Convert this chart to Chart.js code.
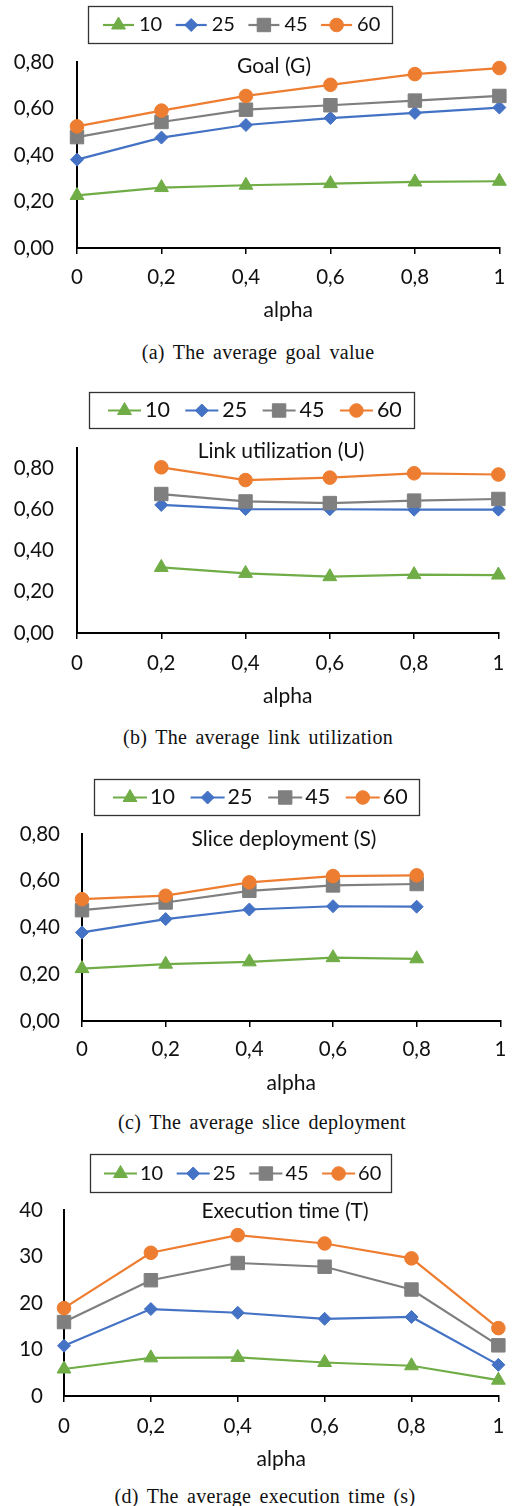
<!DOCTYPE html>
<html><head><meta charset="utf-8">
<script src="https://cdn.jsdelivr.net/npm/chart.js@4.4.0/dist/chart.umd.min.js"></script>
<style>
html,body{margin:0;padding:0;background:#fff;}
body{width:516px;height:1506px;position:relative;overflow:hidden;}
canvas{position:absolute;left:0;}
.cap{position:absolute;left:0;width:516px;text-align:center;font-family:"Liberation Serif","Times New Roman",serif;font-size:20px;word-spacing:3px;letter-spacing:0.3px;color:#111;line-height:20px;white-space:nowrap;}
</style></head><body>
<script>
// ---- data ----
const alpha = ['0', '0,2', '0,4', '0,6', '0,8', '1'];
const seriesNames = ['10', '25', '45', '60'];

const goal10 = [0.226, 0.260, 0.270, 0.277, 0.284, 0.287];
const goal25 = [0.380, 0.475, 0.529, 0.559, 0.581, 0.604];
const goal45 = [0.477, 0.542, 0.595, 0.614, 0.634, 0.654];
const goal60 = [0.523, 0.591, 0.654, 0.702, 0.748, 0.774];

const util10 = [null, 0.319, 0.290, 0.274, 0.284, 0.282];
const util25 = [null, 0.623, 0.603, 0.602, 0.600, 0.600];
const util45 = [null, 0.676, 0.640, 0.632, 0.644, 0.652];
const util60 = [null, 0.806, 0.744, 0.756, 0.777, 0.771];

const slice10 = [0.224, 0.243, 0.253, 0.271, 0.266, null];
const slice25 = [0.379, 0.436, 0.477, 0.491, 0.489, null];
const slice45 = [0.474, 0.507, 0.557, 0.580, 0.586, null];
const slice60 = [0.521, 0.536, 0.593, 0.620, 0.623, null];

const time10 = [5.8, 8.2, 8.3, 7.2, 6.5, 3.4];
const time25 = [10.8, 18.7, 17.9, 16.6, 17.0, 6.7];
const time45 = [15.9, 24.9, 28.6, 27.8, 22.9, 10.9];
const time60 = [18.9, 30.8, 34.6, 32.8, 29.6, 14.6];

const fracTickValues = [0, 0.2, 0.4, 0.6, 0.8];
const fracTickLabels = ['0,00', '0,20', '0,40', '0,60', '0,80'];
const timeTickValues = [0, 10, 20, 30, 40];
const timeTickLabels = ['0', '10', '20', '30', '40'];

const titles = ['Goal (G)', 'Link utilization (U)', 'Slice deployment (S)', 'Execution time (T)'];
const captions = ['(a) The average goal value', '(b) The average link utilization',
  '(c) The average slice deployment', '(d) The average execution time (s)'];
const xTitle = 'alpha';

// ---- styles ----
const colors = ['#70AD47', '#4472C4', '#7F7F7F', '#ED7D31'];
const pStyles = ['triangle', 'rectRot', 'rect', 'circle'];
const pRadius = [8, 6.5, 9.5, 6.8];
const FONT = 'Lato, "Noto Sans", sans-serif';
const TXT = '#111';
const TICK_SIZE = 20.5;
const TITLE_SIZE = 21;

const specs = [
  {series: [goal10, goal25, goal45, goal60], yv: fracTickValues, yl: fracTickLabels, yMax: 0.8,
   g: {top: 0, L: 77, R: 500, T: 62, B: 248, tx: 274, ty: 66, xLabY: 277, alphaY: 310, capY: 352, capX: 0, yPad: 23,
       lg: {x: 88, y: 6, w: 304, h: 37, x0: 103, pitch: 72.7, line: 31, gap: 5, font: 20}}},
  {series: [util10, util25, util45, util60], yv: fracTickValues, yl: fracTickLabels, yMax: 0.9,
   g: {top: 385, L: 77, R: 500, T: 448, B: 633, tx: 281, ty: 451, xLabY: 663, alphaY: 696, capY: 737, capX: 0, yPad: 23,
       lg: {x: 89, y: 392, w: 325, h: 36, x0: 108, pitch: 77.3, line: 33, gap: 4, font: 21.5}}},
  {series: [slice10, slice25, slice45, slice60], yv: fracTickValues, yl: fracTickLabels, yMax: 0.8,
   g: {top: 772, L: 82, R: 504, T: 834, B: 1021, tx: 284, ty: 839, xLabY: 1049, alphaY: 1083, capY: 1122, capX: 4, yPad: 22,
       lg: {x: 94, y: 779, w: 325, h: 36, x0: 113, pitch: 77.6, line: 34, gap: 3, font: 21.5}}},
  {series: [time10, time25, time45, time60], yv: timeTickValues, yl: timeTickLabels, yMax: 40,
   g: {top: 1150, L: 64, R: 505, T: 1210, B: 1396, tx: 285, ty: 1211, xLabY: 1426, alphaY: 1459, capY: 1496, capX: 7, yPad: 21,
       lg: {x: 90, y: 1154, w: 301, h: 38, x0: 104, pitch: 72.7, line: 33, gap: 3, font: 20}}}
];

function drawMarker(ctx, style, r, x, y, color) {
  ctx.save();
  ctx.fillStyle = color; ctx.strokeStyle = color; ctx.lineWidth = 1;
  ctx.beginPath();
  if (style === 'triangle') {
    ctx.moveTo(x, y - r);
    ctx.lineTo(x + r * 0.866, y + r / 2);
    ctx.lineTo(x - r * 0.866, y + r / 2);
    ctx.closePath();
  } else if (style === 'rectRot') {
    ctx.moveTo(x - r, y); ctx.lineTo(x, y - r); ctx.lineTo(x + r, y); ctx.lineTo(x, y + r); ctx.closePath();
  } else if (style === 'rect') {
    const s = r * Math.SQRT1_2;
    ctx.rect(x - s, y - s, 2 * s, 2 * s);
  } else {
    ctx.arc(x, y, r, 0, Math.PI * 2);
  }
  ctx.fill(); ctx.stroke();
  ctx.restore();
}

specs.forEach((sp, ci) => {
  const g = sp.g;
  const H = g.alphaY + 20 - g.top;
  const cv = document.createElement('canvas');
  cv.width = 516; cv.height = H;
  cv.style.top = g.top + 'px'; cv.style.width = '516px'; cv.style.height = H + 'px';
  document.body.appendChild(cv);

  const cap = document.createElement('div');
  cap.className = 'cap';
  cap.style.top = (g.capY - 10) + 'px';
  cap.style.left = g.capX + 'px';
  cap.textContent = captions[ci];
  document.body.appendChild(cap);

  const overlay = {
    id: 'overlay' + ci,
    afterDraw(chart) {
      const ctx = chart.ctx;
      // inner chart title
      ctx.save();
      ctx.font = TITLE_SIZE + 'px ' + FONT;
      ctx.fillStyle = TXT; ctx.textAlign = 'center'; ctx.textBaseline = 'middle';
      ctx.fillText(titles[ci], g.tx, g.ty - g.top);
      ctx.restore();
      // boxed legend
      const lg = g.lg;
      const ly = lg.y - g.top;
      ctx.save();
      ctx.strokeStyle = '#333'; ctx.lineWidth = 1.3;
      ctx.strokeRect(lg.x + 0.5, ly + 0.5, lg.w, lg.h);
      const cy = ly + lg.h / 2 + 0.5;
      chart.data.datasets.forEach((ds, i) => {
        const sx = lg.x0 + i * lg.pitch;
        ctx.strokeStyle = ds.borderColor; ctx.lineWidth = ds.borderWidth;
        ctx.beginPath(); ctx.moveTo(sx, cy); ctx.lineTo(sx + lg.line, cy); ctx.stroke();
        drawMarker(ctx, ds.pointStyle, ds.pointRadius, sx + lg.line / 2, cy, ds.borderColor);
        ctx.font = lg.font + 'px ' + FONT;
        ctx.fillStyle = TXT; ctx.textAlign = 'left'; ctx.textBaseline = 'middle';
        ctx.fillText(ds.label, sx + lg.line + lg.gap, cy);
      });
      ctx.restore();
    }
  };

  new Chart(cv, {
    type: 'line',
    data: {
      labels: alpha,
      datasets: sp.series.map((arr, i) => ({
        label: seriesNames[i],
        data: arr,
        borderColor: colors[i],
        backgroundColor: colors[i],
        pointBackgroundColor: colors[i],
        pointBorderColor: colors[i],
        pointBorderWidth: 1,
        pointStyle: pStyles[i],
        pointRadius: pRadius[i],
        borderWidth: 2.2,
        tension: 0,
        fill: false,
        clip: false,
        spanGaps: false,
        order: 3 - i
      }))
    },
    options: {
      responsive: false,
      animation: false,
      events: [],
      layout: {padding: {top: g.T - g.top, left: 0, right: 516 - g.R, bottom: 0}},
      plugins: {legend: {display: false}, title: {display: false}, tooltip: {enabled: false}},
      scales: {
        x: {
          type: 'category',
          offset: false,
          grid: {display: true, drawOnChartArea: false, drawTicks: true, tickLength: 6, color: '#000', lineWidth: 1.5},
          border: {display: true, color: '#000', width: 2},
          ticks: {color: TXT, font: {family: FONT, size: TICK_SIZE}, padding: g.xLabY - g.B - 6 - TICK_SIZE * 0.6, maxRotation: 0, autoSkip: false},
          title: {display: true, text: xTitle, color: TXT, font: {family: FONT, size: TITLE_SIZE}, padding: {top: 0, bottom: 20 - TITLE_SIZE * 0.6}},
          afterFit: (s) => { s.height = H - (g.B - g.top); }
        },
        y: {
          type: 'linear',
          min: 0, max: sp.yMax,
          grid: {display: false, drawTicks: false},
          border: {display: true, color: '#000', width: 2},
          ticks: {color: TXT, font: {family: FONT, size: TICK_SIZE}, padding: g.yPad,
                  callback: (v, i) => sp.yl[i] !== undefined ? sp.yl[i] : ''},
          afterBuildTicks: (s) => { s.ticks = sp.yv.map(v => ({value: v})); },
          afterFit: (s) => { s.width = g.L; }
        }
      }
    },
    plugins: [overlay]
  });
});
</script>
</body></html>
